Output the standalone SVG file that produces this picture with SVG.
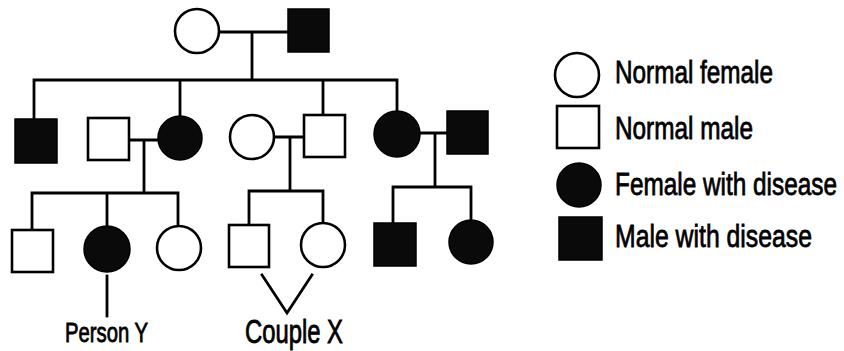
<svg xmlns="http://www.w3.org/2000/svg" width="844" height="351" viewBox="0 0 844 351">
<style>
.n{fill:#fff;stroke:#000;stroke-width:2.6}
.d{fill:#0a0a0a;stroke:#000;stroke-width:1.5}
.c{fill:none;stroke:#000;stroke-width:2.8;stroke-linecap:square}
.t{font-family:"Liberation Sans",Arial,sans-serif;fill:#000;stroke:#000;stroke-width:0.6}
.lg{font-size:24.5px}
</style>
<rect width="844" height="351" fill="#fff"/>
<g id="connectors">
<path class="c" d="M218 32H288M252 32V80M34 80H397M34 80V119M180 80V116M323 80V115M397 80V111"/>
<path class="c" d="M129 140H158M144 140V193M32 193H178M32 193V230M107 193V226M178 193V225"/>
<path class="c" d="M274 137H304M290 137V191M249 191H323M249 191V225M323 191V223"/>
<path class="c" d="M420 133H447M435 133V187M393 187H471M393 187V223M471 187V220"/>
<path class="c" d="M107 276V316"/>
<path class="c" d="M262 275L287 313L312 275" stroke-linecap="butt"/>
</g>
<g id="gen1-mother"><circle class="n" cx="197" cy="31" r="22"/></g>
<g id="gen1-father"><rect class="d" x="288" y="9" width="41" height="43"/></g>
<g id="gen2-son-affected"><rect class="d" x="15" y="119" width="42" height="44"/></g>
<g id="gen2-husband"><rect class="n" x="88" y="118" width="41" height="42"/></g>
<g id="gen2-daughter-affected"><circle class="d" cx="180" cy="138" r="22"/></g>
<g id="gen2-wife"><circle class="n" cx="252" cy="137" r="22"/></g>
<g id="gen2-son"><rect class="n" x="304" y="115" width="41" height="42"/></g>
<g id="gen2-daughter2-affected"><circle class="d" cx="397" cy="134" r="23"/></g>
<g id="gen2-husband2-affected"><rect class="d" x="447" y="111" width="41" height="43"/></g>
<g id="gen3-son1"><rect class="n" x="12" y="230" width="41" height="42"/></g>
<g id="gen3-personY"><circle class="d" cx="107" cy="249" r="23"/></g>
<g id="gen3-daughter1"><circle class="n" cx="179" cy="248" r="22"/></g>
<g id="gen3-coupleX-male"><rect class="n" x="229" y="225" width="40" height="42"/></g>
<g id="gen3-coupleX-female"><circle class="n" cx="323" cy="245" r="22"/></g>
<g id="gen3-son2-affected"><rect class="d" x="374" y="223" width="42" height="43"/></g>
<g id="gen3-daughter2-affected"><circle class="d" cx="471" cy="242" r="22"/></g>
<g id="labels">
<text class="t" transform="translate(65,342) scale(1,1.38)" font-size="20.2" textLength="83" lengthAdjust="spacingAndGlyphs">Person Y</text>
<text class="t" transform="translate(245,343) scale(1,1.42)" font-size="23.8" textLength="98" lengthAdjust="spacingAndGlyphs">Couple X</text>
</g>
<g id="legend">
<g id="legend-normal-female"><circle class="n" cx="577" cy="75" r="22"/><text class="t lg" transform="translate(615,83) scale(1,1.3)" textLength="158" lengthAdjust="spacingAndGlyphs">Normal female</text></g>
<g id="legend-normal-male"><rect class="n" x="557" y="106" width="42" height="42"/><text class="t lg" transform="translate(615,139) scale(1,1.3)" textLength="138" lengthAdjust="spacingAndGlyphs">Normal male</text></g>
<g id="legend-female-disease"><circle class="d" cx="579" cy="185" r="22"/><text class="t lg" transform="translate(615,195) scale(1,1.3)" textLength="222" lengthAdjust="spacingAndGlyphs">Female with disease</text></g>
<g id="legend-male-disease"><rect class="d" x="559" y="217" width="43" height="43"/><text class="t lg" transform="translate(615,247) scale(1,1.3)" textLength="197" lengthAdjust="spacingAndGlyphs">Male with disease</text></g>
</g>
</svg>
